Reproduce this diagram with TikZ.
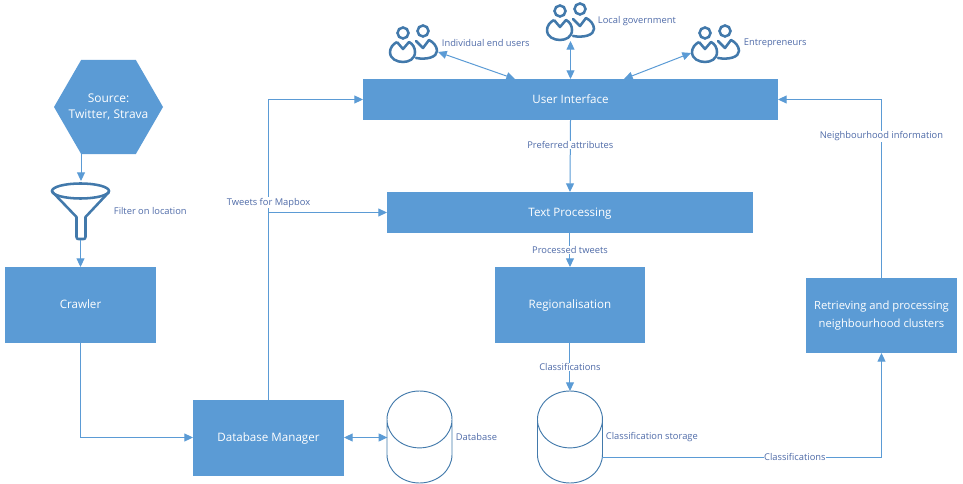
\documentclass[tikz,border=0pt]{standalone}
\usepackage{fontspec}
\setmainfont{Open Sans}
\usetikzlibrary{positioning, arrows.meta, shapes.geometric}
\definecolor{boxblue}{HTML}{5B9BD5}
\definecolor{iconblue}{HTML}{4279AB}
\definecolor{labelblue}{HTML}{4F6BA8}
\tikzset{%
  block/.style={fill=boxblue, text=white, outer sep=0pt, inner sep=0pt, align=center,
    font=\fontsize{8.7}{13.5}\selectfont},
  oneline/.style={block, text height=6pt, text depth=0pt},
  store/.style={cylinder, shape border rotate=90, aspect=6.4, draw=iconblue, line width=0.7pt,
    minimum width=48.75pt, minimum height=69pt, outer sep=0pt},
  iconbox/.style={minimum width=36.75pt, minimum height=30pt, outer sep=0pt, inner sep=0pt},
  tag/.style={text=labelblue, inner sep=0.5pt, font=\fontsize{7}{8}\selectfont},
  link/.style={draw=boxblue, line width=0.75pt, -{Triangle[length=6.5pt,width=6pt]}},
  twoway/.style={link, {Triangle[length=6.5pt,width=6pt]}-{Triangle[length=6.5pt,width=6pt]}},
  onlink/.style={tag, fill=white},
  person/.pic={
    \draw[iconblue, line width=1.9pt] (0,0) circle (5.5);
    \draw[iconblue, line width=1.9pt, line join=round, fill=white] (-6,9) -- (0,16) -- (6,9)
      .. controls (10,11) and (12,15) .. (12,19)
      .. controls (12,26) and (6,29) .. (0,29)
      .. controls (-6,29) and (-13,26) .. (-13,19)
      .. controls (-13,15) and (-10,11) .. (-6,9);
  },
  backperson/.pic={
    \draw[iconblue, line width=1.9pt] (0,0) circle (5.5);
    \draw[iconblue, line width=1.9pt, line join=round, line cap=round] (-7,10) -- (0,17) -- (6,9)
      .. controls (10,11) and (14,15) .. (14,20)
      .. controls (14,26) and (4,29) .. (-7,27);
  },
  users/.pic={
    \pic at (9.5,-12) {backperson};
    \pic at (-10.5,-10) {person};
  },
  funnel/.pic={
    \draw[iconblue, line width=1.9pt, line join=round] (-28,-19) -- (-4,6) -- (-4,26)
      .. controls (-4,28) and (-3,28) .. (-2,28) -- (3,28)
      .. controls (4,28) and (5,28) .. (5,26) -- (5,6) -- (28.5,-19);
    \draw[iconblue, line width=1.9pt] (0,-20) ellipse (28.5 and 7.5);
  }
}
\begin{document}
\begin{tikzpicture}[x=0.75pt, y=-0.75pt]
    \useasboundingbox (0,0) rectangle (963,484);

    % top row
    \node[oneline, minimum width=311.25pt, minimum height=30.75pt] (ui) at (570.5,99.5) {User Interface};
    \node[oneline, minimum width=274.5pt, minimum height=30.75pt, below=54pt of ui, xshift=-0.4pt] (text) {Text Processing};
    \node[oneline, minimum width=112.5pt, minimum height=57pt, below=25.5pt of text] (region) {Regionalisation};
    \node[store, below=36pt of region] (classes) {};

    % left column
    \node[block, regular polygon, regular polygon sides=6, minimum size=81.75pt,
      label={[text=white, align=center, font=\fontsize{9}{12}\selectfont]center:Source:\\Twitter, Strava}] (source) at (108.5,107) {};
    \node[iconbox, minimum width=44pt, minimum height=44pt] (filter) at (80.5,211) {};
    \pic at (filter.center) {funnel};
    \node[oneline, minimum width=113.25pt, minimum height=57pt] (crawler) at (80.5,305) {Crawler};
    \node[oneline, minimum width=113.25pt, minimum height=57pt] (manager) at (268.5,437.5) {Database Manager};
    \node[store, anchor=north] (database) at (419.5,391) {};
    \node[block, font=\fontsize{8.45}{13.5}\selectfont, minimum width=113.25pt, minimum height=56.25pt] (neighbour) at (881.5,315.5) {Retrieving and processing\\neighbourhood clusters};

    % users
    \node[iconbox] (citizens) at (413.5,43) {};
    \node[iconbox] (council) at (570.5,21) {};
    \node[iconbox] (business) at (715.5,43) {};
    \pic at (citizens.center) {users};
    \pic at (council.center) {users};
    \pic at (business.center) {users};

    % free ends on the top of the interface box
    \coordinate (uileft) at (515,79);
    \coordinate (uiright) at (624,79);
    \coordinate (filtertop) at (81,181);
    \coordinate (filterfoot) at (80.5,240);
    \coordinate (sourcefoot) at (81,153.5);

    \draw[twoway] (citizens.east |- 0,52) -- (uileft);
    \draw[twoway] (council.south) -- (ui.north);
    \draw[twoway] (business.west |- 0,53) -- (uiright);

    \draw[link] (sourcefoot) -- (filtertop);
    \draw[link] (filterfoot) -- (crawler.north);
    \draw[link] (crawler.south) |- (manager.west);
    \draw[link] (manager.north) |- (ui.west) node[pos=0.328, onlink] {Tweets for Mapbox};
    \draw[link] (manager.north |- text.west) -- (text.west);
    \draw[twoway] (manager.east) -- (database.west |- manager.east);

    \draw[link] (ui.south) -- node[pos=0.347, onlink] {Preferred attributes} (text.north);
    \draw[link] (text.south) -- node[onlink] {Processed tweets} (region.north);
    \draw[link] (region.south) -- node[onlink] {Classifications} (classes.north);
    \draw[link] (classes.east |- 0,457) -| node[pos=0.345, onlink] {Classifications} (neighbour.south);
    \draw[link] (neighbour.north) |- node[pos=0.397, onlink] {Neighbourhood information} (ui.east);

    \node[tag, anchor=west] (filtertag) at (113,211) {Filter on location};
    \node[tag, anchor=west] (citizenstag) at (441,43) {Individual end users};
    \node[tag, anchor=west] (counciltag) at (597,21) {Local government};
    \node[tag, anchor=west] (businesstag) at (743,43) {Entrepreneurs};
    \node[tag, anchor=west] (databasetag) at (455,437) {Database};
    \node[tag, anchor=west] (classestag) at (605,437) {Classification storage};
\end{tikzpicture}
\end{document}
